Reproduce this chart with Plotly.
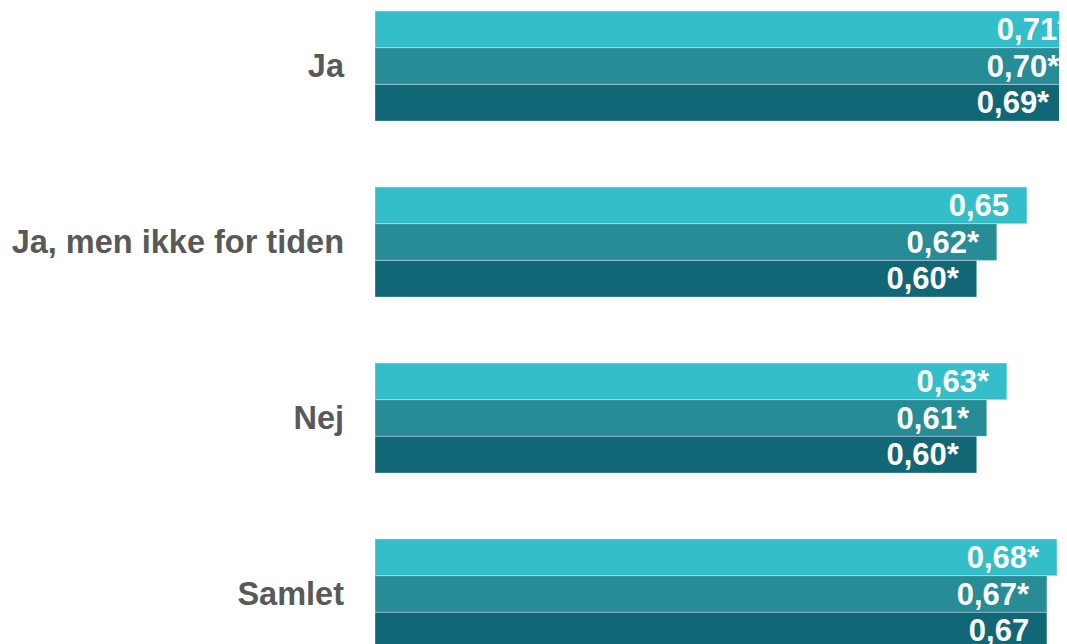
import plotly.graph_objects as go

categories = ["Ja", "Ja, men ikke for tiden", "Nej", "Samlet"]
series_names = ["Måling 1", "Måling 2", "Måling 3"]
values_1 = [0.71, 0.65, 0.63, 0.68]
values_2 = [0.70, 0.62, 0.61, 0.67]
values_3 = [0.69, 0.60, 0.60, 0.67]
stars_1 = [True, False, True, True]
stars_2 = [True, True, True, True]
stars_3 = [True, True, True, False]

colors = ["#33BEC9", "#268C95", "#126777"]


def labels(values, stars):
    out = []
    for v, s in zip(values, stars):
        txt = f"{v:.2f}".replace(".", ",") + ("*" if s else "")
        out.append(txt + "\u00a0\u2009")
    return out


fig = go.Figure()
for name, vals, st, col in zip(series_names,
                               [values_1, values_2, values_3],
                               [stars_1, stars_2, stars_3],
                               colors):
    fig.add_trace(go.Bar(
        y=categories, x=vals, name=name, orientation="h",
        marker=dict(color=col, line=dict(color="rgba(255,255,255,0.35)", width=1)),
        text=labels(vals, st), textposition="inside", insidetextanchor="end",
        constraintext="none",
        insidetextfont=dict(family="Liberation Sans", size=31, color="white", weight="bold"),
    ))

# page body has an 8px margin, so the figure is a bit smaller than the window
fig.update_layout(
    width=1059, height=636,
    margin=dict(l=367, r=0, t=0, b=0),
    barmode="group", bargap=0.375, bargroupgap=0,
    showlegend=False,
    plot_bgcolor="white", paper_bgcolor="white",
    font=dict(family="Liberation Sans"),
)
fig.update_xaxes(range=[0, 0.69], visible=False)
fig.update_yaxes(
    range=[3.284, -0.33], showgrid=False, zeroline=False, showline=False,
    ticks="", ticklabelstandoff=30,
    tickfont=dict(family="Liberation Sans", size=32.5, color="#595959", weight="bold"),
)

fig.write_html("out.html")
